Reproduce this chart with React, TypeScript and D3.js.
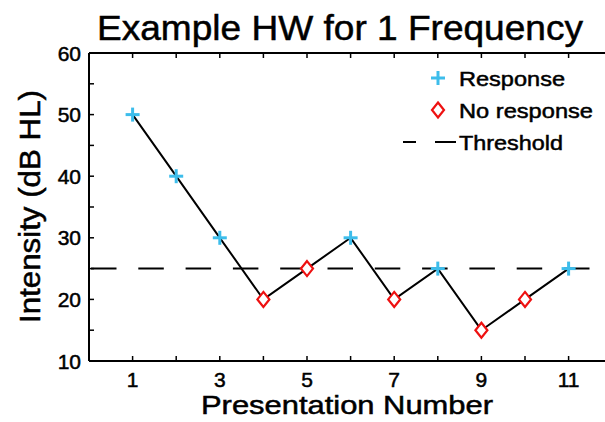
import React from "react";
import * as d3 from "d3";

const presentations = [1, 2, 3, 4, 5, 6, 7, 8, 9, 10, 11];
const intensities = [50, 40, 30, 20, 25, 30, 20, 25, 15, 20, 25];
const responses = [true, true, true, false, false, true, false, true, false, false, true];
const threshold = 25;
const xTicks = [1, 2, 3, 4, 5, 6, 7, 8, 9, 10, 11, 12];
const xLabels = [1, 3, 5, 7, 9, 11];
const yTicks = [10, 15, 20, 25, 30, 35, 40, 45, 50, 55, 60];
const yLabels = [10, 20, 30, 40, 50, 60];

const W = 605, H = 422;
const left = 89, top = 53, bottom = 361;
const font = "Liberation Sans, Arial, sans-serif";
const cyan = "#3DBDEB";
const red = "#EE1111";
const heavy = { stroke: "black", strokeWidth: 0.5 };

export default function App() {
  const x = d3.scaleLinear().domain([0, 12]).range([left, left + 12 * 43.6]);
  const y = d3.scaleLinear().domain([10, 60]).range([bottom, top]);
  const line = d3.line<number>().x((_, i) => x(presentations[i])).y(d => y(d));
  const tl = 5;
  const plus = (cx: number, cy: number, k: string) => (
    <g key={k} stroke={cyan} strokeWidth={3}>
      <line x1={cx - 7} x2={cx + 7} y1={cy} y2={cy} />
      <line x1={cx} x2={cx} y1={cy - 7} y2={cy + 7} />
    </g>
  );
  const diamond = (cx: number, cy: number, k: string) => (
    <path key={k} d={`M${cx},${cy - 7.5}L${cx + 6},${cy}L${cx},${cy + 7.5}L${cx - 6},${cy}Z`} fill="white" stroke={red} strokeWidth={2.2} />
  );
  return (
    <svg width={W} height={H} style={{ position: "absolute", left: 0, top: 0, background: "white" }} fontFamily={font}>
      <rect width={W} height={H} fill="white" />
      <text x={97} y={40} fontSize={35} textLength={486} lengthAdjust="spacingAndGlyphs" {...heavy}>Example HW for 1 Frequency</text>
      {/* axes */}
      <line x1={left} x2={W} y1={bottom} y2={bottom} stroke="black" strokeWidth={2} />
      <line x1={left} x2={W} y1={top} y2={top} stroke="black" strokeWidth={2} />
      <line x1={left} x2={left} y1={top} y2={bottom} stroke="black" strokeWidth={2} />
      {xTicks.map(t => (
        <g key={"xt" + t} stroke="black" strokeWidth={1.5}>
          <line x1={x(t)} x2={x(t)} y1={bottom} y2={bottom - tl} />
          <line x1={x(t)} x2={x(t)} y1={top} y2={top + tl} />
        </g>
      ))}
      {yTicks.map(t => (
        <line key={"yt" + t} x1={left} x2={left + tl} y1={y(t)} y2={y(t)} stroke="black" strokeWidth={1.5} />
      ))}
      {xLabels.map(t => (
        <text key={"xl" + t} x={x(t)} y={bottom + 26} textAnchor="middle" fontSize={21} {...heavy}>{t}</text>
      ))}
      {yLabels.map(t => (
        <text key={"yl" + t} x={left - 8} y={y(t) + 7.5} textAnchor="end" fontSize={21} {...heavy}>{t}</text>
      ))}
      <text x={201} y={414} fontSize={26} textLength={292} lengthAdjust="spacingAndGlyphs" {...heavy}>Presentation Number</text>
      <text transform={`translate(40,323) rotate(-90)`} fontSize={29} textLength={233} lengthAdjust="spacingAndGlyphs" {...heavy}>Intensity (dB HL)</text>
      {/* threshold */}
      <line x1={x(0) + 2} x2={x(11.6)} y1={y(threshold)} y2={y(threshold)} stroke="black" strokeWidth={2} strokeDasharray="25.5 21.8" />
      <path d={line(intensities) || ""} fill="none" stroke="black" strokeWidth={2} />
      {intensities.map((v, i) =>
        responses[i] ? plus(x(presentations[i]), y(v), "p" + i) : diamond(x(presentations[i]), y(v), "d" + i)
      )}
      {/* legend */}
      {plus(438, 78, "lp")}
      <text x={459} y={86} fontSize={21} textLength={106} lengthAdjust="spacingAndGlyphs" {...heavy}>Response</text>
      {diamond(438, 110, "ld")}
      <text x={459} y={118} fontSize={21} textLength={134} lengthAdjust="spacingAndGlyphs" {...heavy}>No response</text>
      <line x1={403} x2={456} y1={142} y2={142} stroke="black" strokeWidth={2} strokeDasharray="13 19 21" />
      <text x={459} y={150} fontSize={21} textLength={104} lengthAdjust="spacingAndGlyphs" {...heavy}>Threshold</text>
    </svg>
  );
}
